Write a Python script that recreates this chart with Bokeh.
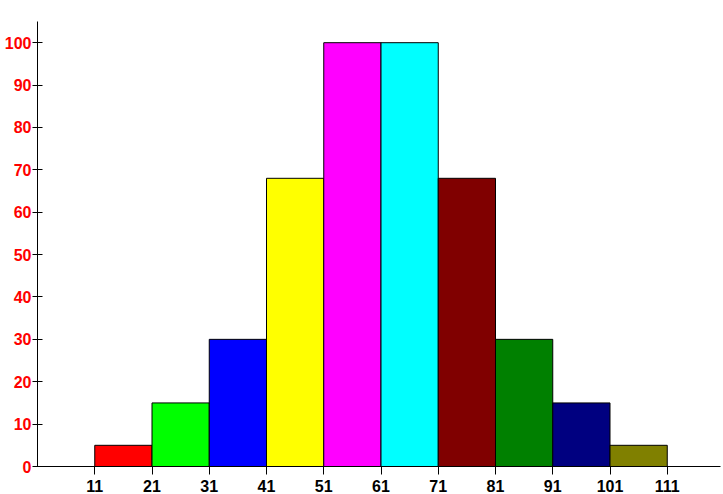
from bokeh.plotting import figure
from bokeh.models import FixedTicker, Range1d, ColumnDataSource
from bokeh.embed import file_html
from bokeh.resources import INLINE

bin_left = [11, 21, 31, 41, 51, 61, 71, 81, 91, 101]
bin_right = [21, 31, 41, 51, 61, 71, 81, 91, 101, 111]
counts = [5, 15, 30, 68, 100, 100, 68, 30, 15, 5]
colors = ["#FF0000", "#00FF00", "#0000FF", "#FFFF00", "#FF00FF",
          "#00FFFF", "#800000", "#008000", "#000080", "#808000"]
x_ticks = [11, 21, 31, 41, 51, 61, 71, 81, 91, 101, 111]
y_ticks = [0, 10, 20, 30, 40, 50, 60, 70, 80, 90, 100]

src = ColumnDataSource(dict(left=bin_left, right=bin_right, top=counts,
                            bottom=[0] * len(counts), color=colors))

p = figure(width=723, height=494, output_backend="svg", toolbar_location=None,
           x_range=Range1d(1, 120.3), y_range=Range1d(0, 105),
           min_border_top=21, min_border_right=3, min_border_left=37,
           min_border_bottom=28)
p.outline_line_color = None
p.xgrid.visible = False
p.ygrid.visible = False
p.background_fill_color = "white"
p.border_fill_color = "white"

p.quad(left="left", right="right", top="top", bottom="bottom", source=src,
       fill_color="color", line_color="black", line_width=1)

p.xaxis.ticker = FixedTicker(ticks=x_ticks)
p.yaxis.ticker = FixedTicker(ticks=y_ticks)
p.xaxis.minor_tick_line_color = None
p.yaxis.minor_tick_line_color = None
p.xaxis.major_tick_in = 0
p.xaxis.major_tick_out = 8
p.yaxis.major_tick_in = 5
p.yaxis.major_tick_out = 5
p.xaxis.axis_line_color = "black"
p.yaxis.axis_line_color = "black"
p.xaxis.major_label_text_font = "Liberation Sans"
p.yaxis.major_label_text_font = "Liberation Sans"
p.xaxis.major_label_text_font_style = "bold"
p.yaxis.major_label_text_font_style = "bold"
p.xaxis.major_label_text_font_size = "16px"
p.yaxis.major_label_text_font_size = "16px"
p.xaxis.major_label_text_color = "black"
p.yaxis.major_label_text_color = "#FF0000"
p.xaxis.major_label_standoff = 5
p.yaxis.major_label_standoff = 1

open("out.html", "w").write(file_html(p, INLINE))
